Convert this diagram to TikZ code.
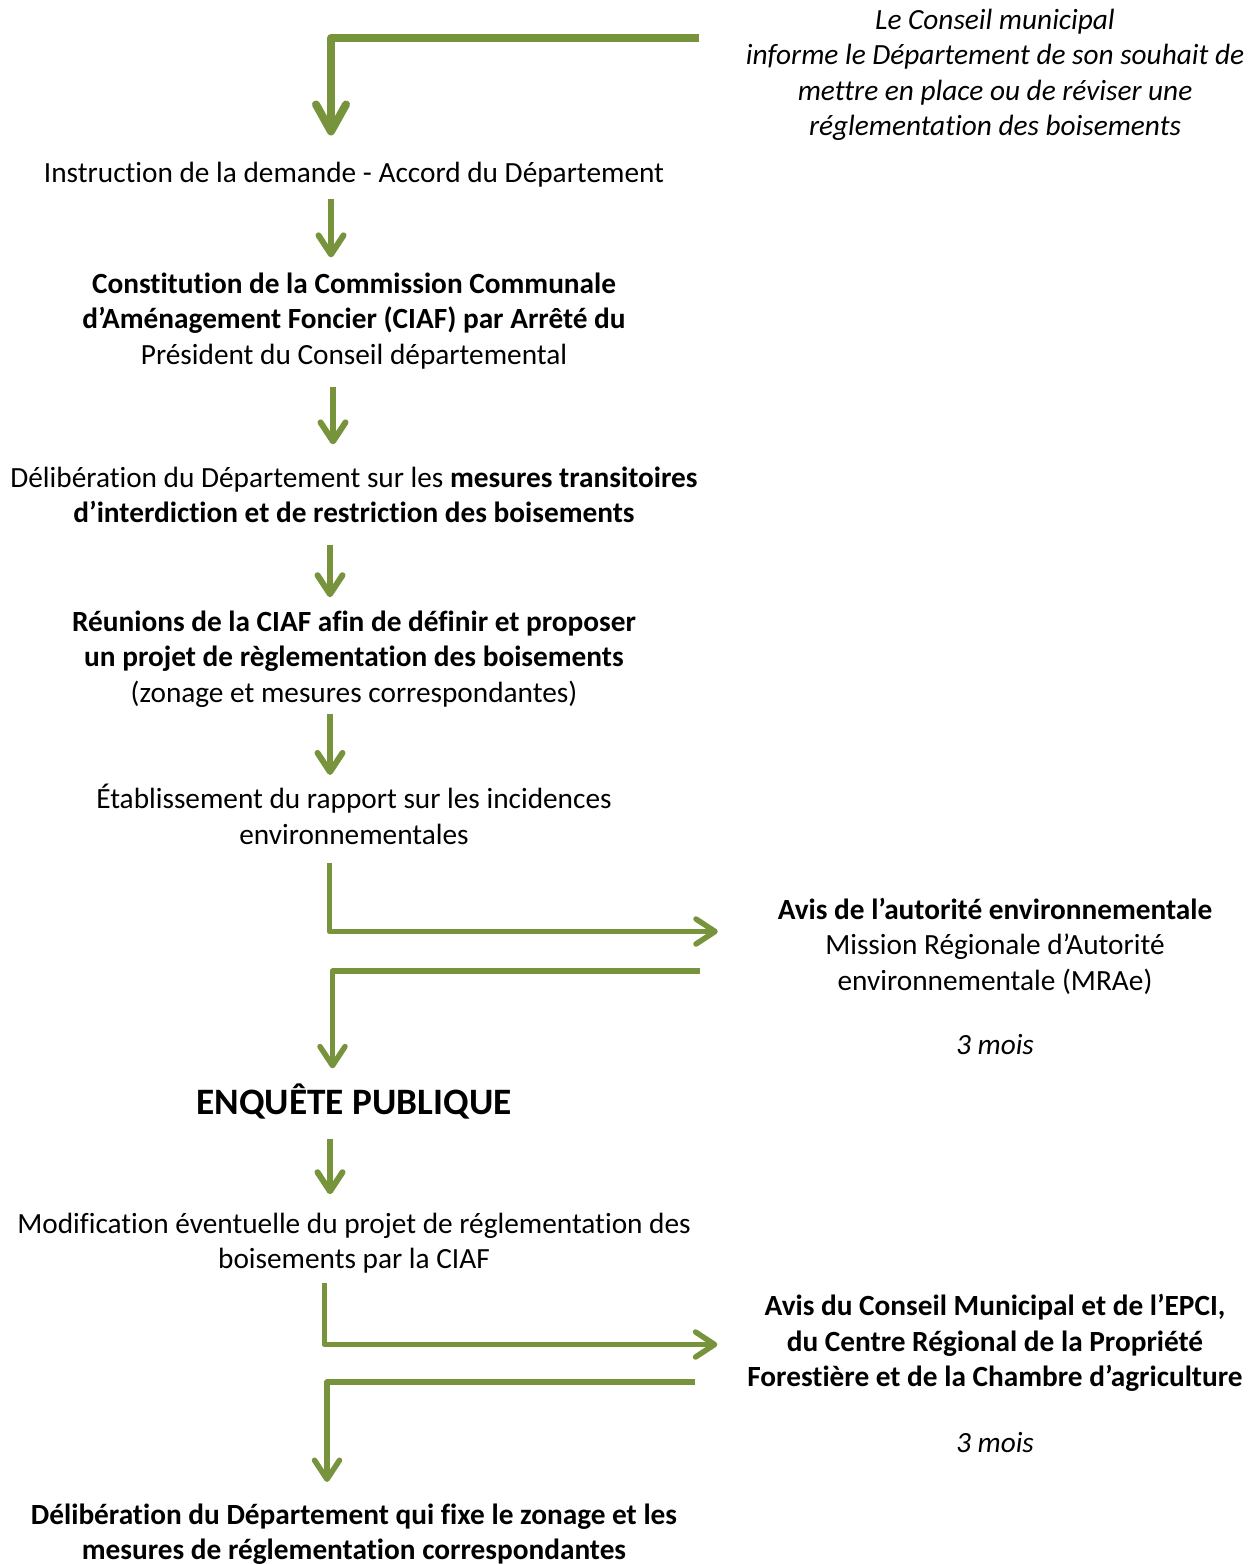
\documentclass[tikz,border=0pt]{standalone}
\usepackage{fontspec}
\setmainfont{Carlito}[Ligatures={NoCommon,NoRare},Contextuals=NoAlternate]
\usetikzlibrary{arrows.meta,positioning,calc}
\definecolor{leafgreen}{HTML}{77933C}
\tikzset{
  txt/.style={align=center,inner sep=0,outer sep=0,font={\fontsize{29.3}{35.5}\selectfont}},
  side txt/.style={txt},
  big txt/.style={txt,font={\fontsize{37.3}{45}\selectfont\bfseries}},
  flow/.style={draw=leafgreen,line width=6pt,line join=round,
    -{Straight Barb[length=19pt,width=25pt,line cap=round,line join=round]}},
  loop flow/.style={flow,line width=5.5pt},
  top flow/.style={flow,line width=8pt,
    -{Straight Barb[length=27pt,width=30pt,line cap=round,line join=round]}}
}
\begin{document}
\begin{tikzpicture}[x=1pt,y=-1pt]
    \useasboundingbox (0,0) rectangle (1258,1564);
    % Nodes: main column
    \node[txt] (instr)   at (354,174.5)  {Instruction de la demande - Accord du Département};
    \node[txt] (constit) at (354,321)    {\textbf{Constitution de la Commission Communale}\\
      \textbf{d’Aménagement Foncier (CIAF) par Arrêté du}\\ Président du Conseil départemental};
    \node[txt] (delib)   at (354,495)    {Délibération du Département sur les \textbf{mesures transitoires}\\
      \textbf{d’interdiction et de restriction des boisements}};
    \node[txt] (reun)    at (354,659)    {\textbf{Réunions de la CIAF afin de définir et proposer}\\
      \textbf{un projet de règlementation des boisements}\\ (zonage et mesures correspondantes)};
    \node[txt] (etab)    at (354,814.5)  {Établissement du rapport sur les incidences\\ environnementales};
    \node[big txt] (enquete) at (354,1101) {ENQUÊTE PUBLIQUE};
    \node[txt] (modif)   at (354,1243)   {Modification éventuelle du projet de réglementation des\\
      boisements par la CIAF};
    \node[txt] (final)   at (354,1534)   {\textbf{Délibération du Département qui fixe le zonage et les}\\
      \textbf{mesures de réglementation correspondantes}};
    % Nodes: side column
    \node[side txt,font={\fontsize{29.3}{35.5}\selectfont\itshape}] (conseil) at (995,75)
      {Le Conseil municipal\\ informe le Département de son souhait de\\
       mettre en place ou de réviser une\\ réglementation des boisements};
    \node[side txt] (avisae) at (995,946) {\textbf{Avis de l’autorité environnementale}\\
      Mission Régionale d’Autorité\\ environnementale (MRAe)};
    \node[side txt] (delaiae) at (995,1045) {\itshape 3 mois};
    \node[side txt] (aviscm) at (995,1343) {\textbf{Avis du Conseil Municipal et de l’EPCI,}\\
      \textbf{du Centre Régional de la Propriété}\\ \textbf{Forestière et de la Chambre d’agriculture}};
    \node[side txt] (delaicm) at (995,1442.5) {\itshape 3 mois};
    % Connections
    \draw[top flow,shorten >=26.5pt] ([xshift=-47pt,yshift=37pt]conseil.west) -| ([xshift=-23pt]instr.north);
    \draw[flow,shorten <=11.5pt,shorten >=15.5pt] ([xshift=-23pt]instr.south) -- ([xshift=-23pt]constit.north);
    \draw[flow,shorten <=17.5pt,shorten >=22.5pt] ([xshift=-21pt]constit.south) -- ([xshift=-21pt]delib.north);
    \draw[flow,shorten <=21.5pt,shorten >=13.5pt] ([xshift=-24pt]delib.south) -- ([xshift=-24pt]reun.north);
    \draw[flow,shorten <=6.5pt,shorten >=9.5pt] ([xshift=-24pt]reun.south) -- ([xshift=-24pt]etab.north);
    \draw[loop flow,shorten <=18.5pt] ([xshift=-24.5pt]etab.south) |- ([xshift=-60pt,yshift=14.5pt]avisae.west);
    \draw[loop flow,shorten >=15pt] ([xshift=-78pt,yshift=-25pt]avisae.west) -| ([xshift=-21.5pt]enquete.north);
    \draw[flow,shorten <=20pt,shorten >=18.5pt] ([xshift=-24pt]enquete.south) -- ([xshift=-24pt]modif.north);
    \draw[loop flow,shorten <=9.5pt] ([xshift=-29.5pt]modif.south) |- ([xshift=-30pt,yshift=-1.5pt]aviscm.west);
    \draw[loop flow,shorten >=21.5pt] ([xshift=-52pt,yshift=-39pt]aviscm.west) -| ([xshift=-27pt]final.north);
  \end{tikzpicture}
\end{document}
